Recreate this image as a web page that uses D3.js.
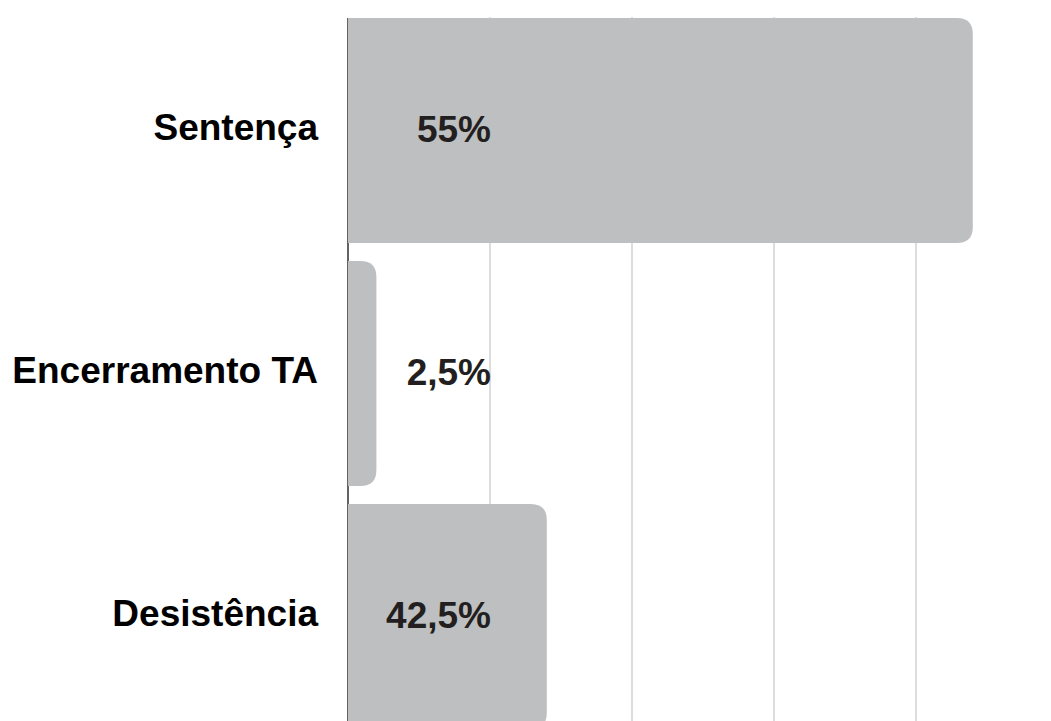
<!DOCTYPE HTML>
<html>
    <head>
        <meta charset="utf-8">
        <title>Sentença / Encerramento TA / Desistência</title>
        <script src="https://d3js.org/d3.v7.min.js"></script>
        <style>
            body{ margin:0; background:#fff; }
            .chart .bar{ fill:#bebfc1; }
            .chart .grid line{ stroke:#c6c6c6; stroke-width:1.2; }
            .chart .cat{
                fill:#000;
                font: bold 37px "Liberation Sans", Arial, sans-serif;
                text-anchor:end;
            }
            .chart .val{
                fill:#231f20;
                font: bold 37px "Liberation Sans", Arial, sans-serif;
                text-anchor:end;
            }
        </style>
    </head>
    <body>
        <svg class="chart"></svg>
        <script>
            // categories, printed percentages and bar lengths (bar lengths read in grid units)
            let categories = ["Sentença", "Encerramento TA", "Desistência"];
            let percentLabels = ["55%", "2,5%", "42,5%"];
            let barValues = [4.4, 0.2, 1.4];
            let gridTicks = [1, 2, 3, 4];

            let width = 1051, height = 721;
            let axisX = 348;

            let chart = d3.select('.chart').attr('width', width).attr('height', height);

            let x = d3.scaleLinear().domain([0, 5]).range([axisX, axisX + 710]);
            let y = d3.scaleBand().domain(categories).range([18, 729]).paddingInner(18 / 243).paddingOuter(0);

            // light vertical gridlines
            chart.append('g').attr('class', 'grid')
                .selectAll('line')
                .data(gridTicks)
                .enter()
                .append('line')
                .attr('x1', x).attr('x2', x)
                .attr('y1', 17).attr('y2', height);

            // axis line
            chart.append('line')
                .attr('x1', x(0)).attr('x2', x(0))
                .attr('y1', 18).attr('y2', height)
                .attr('stroke', '#222').attr('stroke-width', 1.4);

            // bars, rounded on the right side only
            function barPath(x0, y0, x1, y1, r){
                r = Math.min(r, (x1 - x0), (y1 - y0) / 2);
                return 'M' + x0 + ',' + y0 +
                    'H' + (x1 - r) +
                    'Q' + x1 + ',' + y0 + ' ' + x1 + ',' + (y0 + r) +
                    'V' + (y1 - r) +
                    'Q' + x1 + ',' + y1 + ' ' + (x1 - r) + ',' + y1 +
                    'H' + x0 + 'Z';
            }

            let bar = chart.selectAll('g.row')
                .data(categories)
                .enter()
                .append('g')
                .attr('class', 'row');

            bar.append('path')
                .attr('class', 'bar')
                .attr('d', (d, i) => barPath(x(0), y(d), x(barValues[i]), y(d) + y.bandwidth(), 16));

            bar.append('text')
                .attr('class', 'cat')
                .attr('x', axisX - 30)
                .attr('y', d => y(d) + y.bandwidth() / 2 + 9)
                .text(d => d);

            bar.append('text')
                .attr('class', 'val')
                .attr('x', x(gridTicks[0]) + 1)
                .attr('y', d => y(d) + y.bandwidth() / 2 + 11)
                .text((d, i) => percentLabels[i]);
        </script>
    </body>
</html>
